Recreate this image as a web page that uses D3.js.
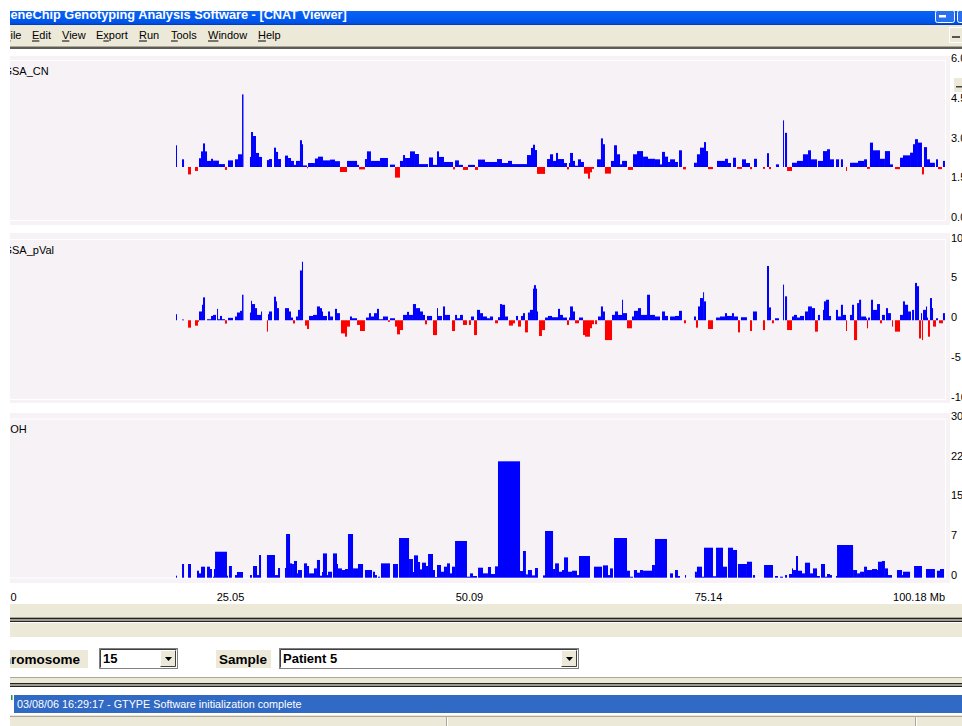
<!DOCTYPE html>
<html>
<head>
<meta charset="utf-8">
<script src="https://cdn.jsdelivr.net/npm/d3@7"></script>
<style>
  html, body { margin: 0; padding: 0; background: #ffffff; overflow: hidden; }
  svg { display: block; }
</style>
</head>
<body>
<svg id="view" width="962" height="726"></svg>
<script>
// ---------------------------------------------------------------
// Chromosome 15 copy-number viewer: GSA_CN, GSA_pVal and LOH tracks
// ---------------------------------------------------------------

const chromosomeLengthMb = 100.18;
const xTickValues = [0, 25.05, 50.09, 75.14, 100.18];
const xTickLabels = ["0", "25.05", "50.09", "75.14", "100.18 Mb"];

const cnTickValues = [6, 4.5, 3, 1.5, 0];
const cnTickLabels = ["6.0", "4.5", "3.0", "1.5", "0.0"];
const pvalTickValues = [10, 5, 0, -5, -10];
const pvalTickLabels = ["10", "5", "0", "-5", "-10"];
const lohTickValues = [30, 22.5, 15, 7.5, 0];
const lohTickLabels = ["30", "22", "15", "7", "0"];

const menuItems = ["File", "Edit", "View", "Export", "Run", "Tools", "Window", "Help"];
const menuAccessKey = [0, 0, 0, 1, 0, 0, 0, 0];

const windowTitle = "GeneChip Genotyping Analysis Software - [CNAT Viewer]";
const statusMessage = "03/08/06 16:29:17 - GTYPE Software initialization complete";
const chromosomeChoice = "15";
const sampleChoice = "Patient 5";

// GSA copy number, [start Mb, end Mb, copy number]
const cnSegments = [
  [19.34,19.44,2.82],[19.97,20.18,2.29],[20.60,20.91,1.72],[21.33,21.64,1.85],[21.75,21.96,2.33],
  [21.96,22.17,2.59],[22.17,22.38,2.89],[22.38,22.59,2.59],[22.59,23.01,2.23],[23.01,23.22,2.31],
  [23.22,23.84,2.24],[23.84,24.47,2.11],[24.47,24.68,1.89],[24.79,25.31,2.25],[25.52,25.84,2.29],
  [25.84,26.26,2.48],[26.26,26.41,4.74],[27.09,27.20,2.38],[27.20,27.41,3.32],[27.41,27.72,3.17],
  [27.72,28.04,2.53],[28.04,28.35,2.38],[28.87,29.08,2.26],[29.08,29.40,2.30],[29.61,29.82,2.73],
  [29.82,30.03,2.57],[30.03,30.34,2.30],[30.76,31.08,2.43],[31.08,31.39,2.34],[31.39,31.70,2.23],
  [31.70,31.91,2.08],[31.91,32.33,2.23],[32.33,32.54,3.01],[32.54,32.65,2.86],[32.65,33.07,2.06],
  [33.07,33.17,1.95],[33.17,33.90,2.15],[33.90,34.22,2.32],[34.22,34.74,2.39],[34.74,35.48,2.25],
  [35.48,36.00,2.28],[36.00,36.52,2.22],[36.52,37.26,1.81],[37.26,38.31,2.23],[38.31,38.52,2.08],
  [38.52,39.14,1.91],[39.14,39.35,2.30],[39.35,39.77,2.59],[39.77,40.72,2.23],[40.72,41.55,2.34],
  [41.76,42.29,2.09],[42.29,42.81,1.60],[42.81,43.13,2.23],[43.13,43.34,2.45],[43.34,43.86,2.34],
  [43.86,44.38,2.59],[44.38,44.80,2.49],[44.80,45.75,2.11],[45.85,46.27,2.36],[46.27,46.69,2.08],
  [46.69,46.90,2.59],[46.90,47.42,2.38],[47.42,48.37,2.19],[48.37,48.58,1.91],[48.58,48.99,2.25],
  [48.99,49.41,2.08],[49.41,49.94,1.89],[49.94,50.67,2.08],[50.67,50.99,1.89],[50.99,51.72,2.28],
  [51.72,52.98,2.19],[52.98,53.50,2.30],[53.50,54.13,2.15],[54.13,54.55,2.23],[54.55,56.12,2.11],
  [56.12,56.54,2.45],[56.54,56.75,2.72],[56.75,56.96,2.84],[56.96,57.17,2.64],[57.17,58.01,1.74],
  [58.22,58.53,2.30],[58.53,58.85,2.48],[58.85,59.16,2.23],[59.16,59.37,2.53],[59.37,60.00,2.30],
  [60.00,60.31,2.15],[60.31,60.52,1.91],[60.52,60.63,2.15],[60.63,60.94,2.53],[60.94,61.15,2.23],
  [61.15,61.46,2.05],[61.46,61.78,2.29],[61.78,62.09,2.19],[62.09,62.51,1.75],[62.51,62.72,1.56],
  [62.72,62.93,1.80],[62.93,63.14,1.93],[63.46,63.87,2.29],[63.87,64.08,3.08],[64.08,64.29,2.86],
  [64.29,64.92,1.75],[64.92,65.24,2.23],[65.24,65.55,2.82],[65.55,65.87,2.48],[65.87,66.08,2.10],
  [66.08,66.60,2.23],[66.70,67.23,1.89],[67.23,67.65,2.48],[67.65,68.28,2.60],[68.28,68.80,2.39],
  [68.80,69.53,2.31],[69.53,70.06,2.29],[70.06,70.27,2.10],[70.27,70.58,2.57],[70.58,70.90,2.39],
  [70.90,71.11,2.19],[71.11,71.63,2.29],[71.63,71.94,2.19],[72.05,72.36,2.63],[72.47,72.78,1.91],
  [73.62,73.93,2.16],[73.93,74.25,2.48],[74.25,74.67,2.73],[74.67,74.88,2.94],[74.88,75.09,2.60],
  [75.09,75.61,1.92],[76.03,76.87,2.23],[76.87,77.18,2.31],[77.18,77.50,2.15],[77.71,78.02,2.35],
  [78.13,78.65,1.93],[78.65,79.07,2.29],[79.07,79.49,2.15],[79.49,79.70,1.92],[79.91,80.22,2.31],
  [80.85,81.06,1.93],[81.27,81.48,2.52],[81.48,81.69,1.92],[82.21,82.53,2.10],[82.95,83.05,3.76],
  [83.16,83.37,3.29],[83.37,83.89,1.85],[83.89,84.41,2.16],[84.41,85.04,2.23],[85.04,85.57,2.48],
  [85.57,85.88,2.63],[85.88,86.51,2.29],[86.61,87.14,2.23],[87.14,87.56,2.60],[87.56,87.87,2.67],
  [87.87,88.29,2.29],[88.50,88.82,2.29],[89.02,89.23,2.29],[89.55,89.65,1.85],[89.97,90.81,2.16],
  [90.81,91.44,2.23],[91.44,91.75,2.29],[91.75,92.06,1.93],[92.06,92.38,2.92],[92.38,93.11,2.63],
  [93.11,93.63,2.31],[93.63,94.16,2.60],[94.16,94.47,2.10],[94.68,95.21,1.92],[95.21,95.52,2.35],
  [95.52,96.26,2.44],[96.26,96.57,2.54],[96.57,96.78,2.86],[96.78,97.09,3.05],[97.09,97.51,2.92],
  [97.51,97.72,1.72],[97.72,98.04,2.75],[98.04,98.35,2.29],[98.35,98.87,2.16],[98.98,99.19,2.29],
  [99.19,99.61,1.92],[99.71,99.92,2.23]
];

// GSA p-value score, [start Mb, end Mb, signed -log10 p]
const pvalSegments = [
  [19.34,19.44,0.76],[19.97,20.18,0.09],[20.60,20.91,-0.93],[21.33,21.64,-0.68],[21.64,21.75,-0.20],
  [21.75,22.06,1.10],[22.06,22.17,1.94],[22.17,22.38,2.87],[22.59,23.01,0.13],[23.01,23.22,0.54],
  [23.22,23.53,0.67],[23.64,23.74,1.43],[23.74,23.95,0.13],[23.95,24.16,0.54],[24.16,24.47,0.13],
  [24.47,24.68,-0.42],[24.79,25.31,0.30],[25.52,25.73,0.47],[25.73,26.05,0.97],[26.05,26.26,1.18],
  [26.26,26.41,3.20],[27.09,27.20,0.97],[27.20,27.30,2.44],[27.30,27.62,2.03],[27.62,27.83,1.52],
  [27.83,28.25,0.67],[28.25,28.35,1.10],[28.87,28.98,-1.43],[28.98,29.08,0.76],[29.08,29.40,1.10],
  [29.61,29.82,2.95],[29.82,29.92,2.37],[29.92,30.13,1.52],[30.76,31.18,1.52],[31.18,31.39,1.10],
  [31.39,31.60,0.34],[31.60,31.81,-0.40],[31.91,32.12,0.47],[32.12,32.33,1.30],[32.33,32.54,6.24],
  [32.54,32.65,7.34],[32.86,33.07,-0.67],[33.07,33.28,-1.10],[33.28,33.70,0.54],[33.70,34.11,0.67],
  [34.11,34.43,1.73],[34.43,34.64,1.52],[34.64,34.74,1.10],[34.74,35.16,0.54],[35.27,35.48,1.10],
  [35.48,35.79,0.47],[36.00,36.21,1.43],[36.21,36.52,0.89],[36.63,37.05,-1.65],[37.05,37.26,-2.06],
  [37.26,37.57,-0.80],[37.57,37.78,0.47],[37.78,38.31,0.25],[38.31,38.62,-0.59],[38.62,39.14,-1.35],
  [39.25,39.56,0.34],[39.56,39.77,0.89],[39.77,40.09,0.47],[40.09,40.40,0.89],[40.40,40.61,1.43],
  [40.61,41.03,0.13],[41.03,41.34,0.47],[41.34,41.55,0.47],[41.55,41.76,-0.20],[41.76,42.29,0.25],
  [42.29,42.50,-0.80],[42.50,42.81,-1.77],[42.81,43.13,-1.23],[43.13,43.55,0.67],[43.55,43.76,1.05],
  [43.76,44.17,0.67],[44.17,44.49,2.03],[44.49,44.91,1.52],[44.91,45.22,1.10],[45.22,45.43,0.67],
  [45.43,45.64,-0.51],[45.64,46.17,0.54],[46.27,46.69,-1.86],[46.69,46.79,1.52],[46.79,47.21,0.54],
  [47.32,47.53,1.73],[47.53,48.05,0.67],[48.26,48.58,-1.35],[48.58,48.79,0.67],[48.79,49.10,0.25],
  [49.10,49.41,0.67],[49.41,49.83,-0.59],[50.04,50.25,-0.59],[50.25,50.57,0.47],[50.57,50.88,-1.86],
  [50.88,51.20,1.30],[51.20,51.51,0.89],[51.51,51.93,0.47],[51.93,52.24,0.25],[52.24,52.56,0.47],
  [52.77,53.08,-0.38],[53.08,53.29,0.38],[53.29,53.50,2.03],[53.50,53.82,1.94],[53.82,54.13,0.47],
  [54.23,54.65,-0.67],[54.65,54.86,-0.38],[54.97,55.18,0.54],[55.18,55.49,-0.80],[55.49,55.70,0.54],
  [55.70,55.91,0.89],[55.91,56.22,-1.52],[56.22,56.43,0.97],[56.43,56.75,1.30],[56.75,56.85,3.96],
  [56.85,57.06,4.40],[57.06,57.17,3.96],[57.17,57.27,1.10],[57.38,57.69,-1.98],[57.69,58.01,-1.23],
  [58.01,58.32,0.34],[58.32,58.74,0.54],[58.74,59.37,0.38],[59.37,59.58,1.43],[59.58,59.89,0.67],
  [59.89,60.31,0.34],[60.31,60.52,-0.59],[60.52,60.63,0.34],[60.63,60.94,1.73],[60.94,61.15,1.10],
  [61.15,61.57,-0.38],[61.57,61.99,0.34],[61.99,62.20,-1.86],[62.20,62.72,-2.06],[62.72,62.93,-1.00],
  [62.93,63.14,-0.50],[63.25,63.46,-0.50],[63.56,63.87,0.47],[63.87,64.08,1.73],[64.08,64.29,1.10],
  [64.29,65.03,-2.49],[65.03,65.34,0.67],[65.34,65.66,1.10],[65.66,66.08,0.67],[66.08,66.18,2.57],
  [66.18,66.60,0.89],[66.60,67.12,-1.01],[67.12,67.33,0.47],[67.33,67.75,1.18],[67.75,68.07,1.52],
  [68.07,68.70,0.67],[68.70,69.01,3.20],[69.01,69.53,0.67],[69.53,70.06,0.47],[70.27,70.58,1.10],
  [70.58,70.90,0.54],[71.11,71.63,0.47],[71.63,72.05,0.54],[72.05,72.36,1.18],[72.57,72.78,-0.38],
  [73.62,73.83,0.47],[73.83,74.04,-0.93],[74.04,74.25,1.73],[74.25,74.57,2.78],[74.57,74.67,3.51],
  [74.67,74.88,2.37],[75.09,75.61,-1.10],[75.93,76.34,0.34],[76.34,76.87,0.47],[76.87,77.08,0.89],
  [77.08,77.60,0.54],[77.60,77.81,0.89],[77.81,78.23,0.47],[78.23,78.44,-1.52],[78.54,79.17,0.38],
  [79.49,79.70,-1.35],[79.80,80.22,1.10],[80.85,81.06,-1.23],[81.27,81.48,6.80],[81.48,81.69,1.61],
  [81.79,82.00,-0.38],[82.11,82.53,0.25],[82.95,83.05,4.47],[83.16,83.37,3.00],[83.37,83.89,-1.23],
  [83.89,84.10,0.47],[84.10,84.41,0.67],[84.41,84.73,0.34],[84.73,85.15,0.54],[85.25,85.57,1.10],
  [85.57,85.98,1.73],[85.98,86.30,1.52],[86.30,86.61,-1.43],[86.61,86.82,0.67],[87.14,87.24,1.30],
  [87.24,87.45,2.37],[87.45,87.77,2.57],[87.77,87.98,0.54],[88.50,88.71,1.30],[88.71,89.02,0.47],
  [89.02,89.23,1.94],[89.23,89.55,0.67],[89.55,89.65,-1.35],[89.97,90.18,0.67],[90.18,90.39,1.94],
  [90.39,90.71,-2.49],[90.71,90.92,2.15],[90.92,91.13,2.57],[91.13,91.65,0.47],[91.65,91.75,0.25],
  [91.75,91.86,-1.01],[91.86,92.06,0.34],[92.17,92.38,2.57],[92.38,92.80,1.30],[92.80,93.11,2.03],
  [93.11,93.32,-0.38],[93.32,93.63,0.67],[93.74,93.95,1.52],[93.95,94.26,0.89],[94.37,94.47,-0.80],
  [94.68,95.21,-1.43],[95.21,95.52,0.67],[95.52,95.73,2.37],[95.73,96.05,1.94],[96.05,96.36,1.10],
  [96.47,96.68,1.30],[96.78,96.99,4.68],[96.99,97.20,4.27],[97.20,97.41,-2.28],[97.41,97.51,0.89],
  [97.51,97.62,-2.49],[97.62,97.93,1.30],[97.93,98.04,1.73],[98.04,98.14,0.34],[98.14,98.35,-2.06],
  [98.35,98.56,2.78],[98.56,98.67,1.52],[98.67,98.98,-0.80],[98.98,99.19,0.25],[99.30,99.71,-0.38],
  [99.71,99.92,0.89]
];

// LOH score, [start Mb, end Mb, score]
const lohSegments = [
  [19.34,19.44,0.38],[19.97,20.18,2.59],[20.60,20.91,2.59],[21.54,21.75,1.32],[21.75,21.96,0.82],
  [21.96,22.38,2.08],[22.59,22.90,2.08],[22.90,23.11,1.64],[23.22,23.32,0.19],[23.32,23.43,1.64],
  [23.43,24.68,4.91],[24.68,24.79,0.38],[24.89,25.20,2.21],[25.52,25.73,0.50],[25.73,26.36,1.08],
  [27.09,27.30,0.50],[27.41,27.83,2.21],[27.83,28.04,0.50],[28.04,28.25,4.29],[28.87,29.71,4.29],
  [29.71,30.03,0.50],[30.03,30.24,1.83],[30.76,30.87,1.83],[30.87,31.29,8.26],[31.29,31.50,2.71],
  [31.50,31.70,2.59],[31.70,32.02,3.16],[32.02,32.12,0.82],[32.12,32.54,1.45],[32.75,33.07,2.71],
  [33.07,33.28,2.21],[33.28,33.80,0.82],[33.80,34.11,1.76],[34.11,34.43,3.35],[34.43,34.64,0.38],
  [34.64,34.74,1.08],[34.74,35.16,4.59],[35.16,35.27,0.50],[35.27,35.69,1.13],[35.79,36.21,4.59],
  [36.21,36.31,2.59],[36.31,36.73,1.76],[36.73,37.05,1.45],[37.05,37.36,1.64],[37.36,37.89,8.26],
  [37.89,38.41,1.76],[38.41,38.94,2.59],[39.14,39.88,1.45],[39.98,40.19,1.13],[40.19,40.40,0.50],
  [40.51,40.72,0.19],[40.82,41.76,2.71],[42.08,42.60,2.59],[42.71,43.76,7.50],[43.76,44.17,3.53],
  [44.17,44.28,1.08],[44.28,44.70,4.22],[44.70,44.91,2.97],[44.91,45.12,1.57],[45.12,45.54,2.84],
  [45.54,45.75,2.21],[45.75,46.27,4.48],[46.27,46.48,1.45],[46.48,46.69,0.13],[46.69,47.11,2.40],
  [47.11,47.42,1.13],[47.42,47.74,2.08],[47.74,48.05,2.71],[48.05,48.26,0.82],[48.26,48.58,2.08],
  [48.58,49.83,6.94],[49.83,50.15,0.19],[50.15,50.46,0.82],[50.46,50.88,0.32],[50.99,51.51,1.89],
  [51.51,52.03,0.82],[52.03,52.35,2.02],[52.35,52.77,0.70],[52.77,53.08,2.14],[53.08,55.39,22.0],
  [55.39,55.70,1.26],[55.70,56.01,5.05],[56.01,56.22,0.63],[56.22,56.64,1.45],[56.64,56.96,0.44],
  [56.96,57.27,1.83],[57.80,58.01,0.44],[58.01,58.85,8.83],[58.85,59.06,1.64],[59.06,59.47,2.71],
  [59.47,59.79,1.13],[59.79,60.00,1.45],[60.00,60.42,3.84],[60.42,60.84,1.13],[60.84,61.36,1.32],
  [61.36,61.57,0.50],[61.57,62.72,4.10],[63.14,63.98,2.08],[64.08,64.61,2.33],[64.61,64.82,0.50],
  [64.82,65.13,1.76],[65.24,66.60,7.50],[66.60,66.91,1.32],[66.91,67.23,0.19],[67.33,67.65,1.45],
  [67.65,67.96,0.95],[67.96,68.28,1.45],[68.28,69.22,1.32],[69.22,69.53,2.40],[69.53,70.79,7.32],
  [71.11,71.42,0.82],[71.63,71.94,1.45],[71.94,72.15,0.32],[72.68,72.78,0.50],[73.72,73.93,1.13],
  [73.93,74.46,2.08],[74.46,74.67,0.19],[74.67,75.61,5.67],[75.61,75.93,0.28],[75.93,76.66,5.67],
  [76.66,77.08,2.08],[77.18,77.71,5.67],[77.71,78.13,5.24],[78.23,79.17,2.59],[79.17,79.70,3.02],
  [79.80,80.01,0.50],[80.96,81.90,2.40],[82.11,82.42,0.32],[82.63,82.95,0.19],[83.16,83.37,0.50],
  [83.58,83.89,0.70],[83.89,84.00,1.76],[84.00,84.31,1.45],[84.31,84.52,4.10],[84.52,84.94,1.32],
  [84.94,85.25,0.82],[85.25,85.78,2.84],[85.78,86.09,0.82],[86.09,86.51,1.76],[86.51,86.82,0.32],
  [86.93,87.35,2.59],[87.35,87.56,0.19],[87.56,87.87,0.70],[87.87,88.08,0.50],[88.50,88.61,0.32],
  [88.61,90.29,6.18],[90.29,90.71,1.45],[90.71,91.02,0.82],[91.02,91.44,1.13],[91.44,91.75,2.08],
  [91.75,92.27,1.45],[92.27,92.80,1.64],[92.80,92.90,1.45],[92.90,93.32,3.02],[93.32,93.63,3.16],
  [93.63,93.95,1.76],[93.95,94.37,0.50],[94.89,95.42,1.45],[95.42,95.52,0.50],[95.52,96.26,1.13],
  [96.68,97.51,2.21],[97.93,98.87,1.64],[99.08,99.40,1.32],[99.40,99.82,1.64]
];

// ---------------------------------------------------------------
// Layout
// ---------------------------------------------------------------
const W = 962, H = 726;
const FACE = "#ECE9D8";          // dialog face colour
const PLOT_BG = "#F6F2F6";       // track background
const UI_FONT = "'Liberation Sans', Arial, sans-serif";

// left edge of each menu caption (the first one is partly hidden)
const MENU_LEFT = [10.5, 32, 62, 96, 139, 171, 208, 258];

const svg = d3.select("#view");
const defs = svg.append("defs");

// The window is seen from x = 10 onward
defs.append("clipPath").attr("id", "winClip")
  .append("rect").attr("x", 10).attr("y", 0).attr("width", W - 10).attr("height", H);

const root = svg.append("g").attr("clip-path", "url(#winClip)");

function textWidth(str, font) {
  const t = svg.append("text").attr("style", "font:" + font).text(str);
  const w = t.node().getComputedTextLength();
  t.remove();
  return w;
}

// text whose leading characters run off the left side of the window
function leftCutText(parent, full, hidden, visibleX, baseline, font, fill) {
  const x = visibleX - textWidth(hidden, font);
  return parent.append("text")
    .attr("x", x).attr("y", baseline)
    .attr("style", "font:" + font)
    .attr("fill", fill)
    .text(full);
}

// ---------------- Title bar ----------------
const tg = defs.append("linearGradient").attr("id", "titleGrad")
  .attr("x1", 0).attr("y1", 0).attr("x2", 0).attr("y2", 1);
tg.append("stop").attr("offset", "0%").attr("stop-color", "#0A62F6");
tg.append("stop").attr("offset", "60%").attr("stop-color", "#0058EE");
tg.append("stop").attr("offset", "88%").attr("stop-color", "#0050E0");
tg.append("stop").attr("offset", "100%").attr("stop-color", "#0037B8");

defs.append("clipPath").attr("id", "titleClip")
  .append("rect").attr("x", 10).attr("y", 11).attr("width", W).attr("height", 14);

root.append("rect").attr("x", 0).attr("y", 11).attr("width", W).attr("height", 14)
  .attr("fill", "url(#titleGrad)");

{
  const g = root.append("g").attr("clip-path", "url(#titleClip)");
  const baseFont = "bold 13px " + UI_FONT;
  const full = textWidth(windowTitle, baseFont);
  const hid = textWidth("G", baseFont);
  const scale = (347 - 10.5) / (full - hid);
  const font = "bold " + (13 * scale).toFixed(2) + "px " + UI_FONT;
  leftCutText(g, windowTitle, "G", 10.5, 19, font, "#ffffff");
}

// caption buttons
root.append("rect").attr("x", 935.5).attr("y", 10.5).attr("width", 19).attr("height", 12).attr("rx", 2)
  .attr("fill", "#2A6FF0").attr("stroke", "#ffffff");
root.append("rect").attr("x", 939).attr("y", 15).attr("width", 7).attr("height", 2.5).attr("fill", "#ffffff");
root.append("rect").attr("x", 957.5).attr("y", 10.5).attr("width", 19).attr("height", 12).attr("rx", 2)
  .attr("fill", "#2A6FF0").attr("stroke", "#ffffff");

// ---------------- Menu bar ----------------
root.append("rect").attr("x", 0).attr("y", 25).attr("width", W).attr("height", 21).attr("fill", FACE);
{
  const font = "11px " + UI_FONT;
  menuItems.forEach((label, i) => {
    const x0 = i === 0 ? MENU_LEFT[0] - textWidth("F", font) : MENU_LEFT[i];
    root.append("text").attr("x", x0).attr("y", 39).attr("style", "font:" + font)
      .attr("fill", "#000").text(label);
    // access-key underline
    const k = menuAccessKey[i];
    const ux = x0 + textWidth(label.slice(0, k), font);
    const uw = textWidth(label[k], font);
    root.append("rect").attr("x", ux).attr("y", 40.5).attr("width", uw).attr("height", 1).attr("fill", "#000");
  });
}
// MDI minimise button at the menu bar's end
root.append("rect").attr("x", 949.5).attr("y", 27.5).attr("width", 14).attr("height", 15)
  .attr("fill", FACE).attr("stroke", "#ffffff");
root.append("rect").attr("x", 952).attr("y", 36).attr("width", 8).attr("height", 2).attr("fill", "#555");

root.append("rect").attr("x", 0).attr("y", 46).attr("width", W).attr("height", 1).attr("fill", "#ACA899");
root.append("rect").attr("x", 0).attr("y", 47).attr("width", W).attr("height", 2).attr("fill", "#5C5B55");

// ---------------- Tracks ----------------
const x = d3.scaleLinear().domain([0, chromosomeLengthMb]).range([-8.55, 947.45]);
const FRAME_RIGHT = 945;

const tracks = [
  { title: "GSA_CN", hidden: "G", nameX: 12, segs: cnSegments, domain: [0, 6], base: 2,
    range: [220, 61], bgTop: 56, bgBottom: 225, frameTop: 60.5, frameBottom: 220.5,
    ticks: cnTickValues, labels: cnTickLabels, signed: true },
  { title: "GSA_pVal", hidden: "G", nameX: 12, segs: pvalSegments, domain: [-10, 10], base: 0,
    range: [400, 240.5], bgTop: 233, bgBottom: 403, frameTop: 239.5, frameBottom: 399.5,
    ticks: pvalTickValues, labels: pvalTickLabels, signed: true },
  { title: "LOH", hidden: "L", nameX: 10.2, segs: lohSegments, domain: [0, 30], base: 0,
    range: [577.7, 419], bgTop: 413, bgBottom: 583, frameTop: 419, frameBottom: 578,
    ticks: lohTickValues, labels: lohTickLabels, signed: false }
];

tracks.forEach(t => {
  const y = d3.scaleLinear().domain(t.domain).range(t.range);
  const g = root.append("g");

  g.append("rect").attr("x", 0).attr("y", t.bgTop).attr("width", 950).attr("height", t.bgBottom - t.bgTop)
    .attr("fill", PLOT_BG);
  g.append("rect").attr("x", -5).attr("y", t.frameTop).attr("width", FRAME_RIGHT + 0.5 + 5)
    .attr("height", t.frameBottom - t.frameTop)
    .attr("fill", "none").attr("stroke", "#ffffff").attr("stroke-width", 1);

  g.append("g").selectAll("rect").data(t.segs).join("rect")
    .attr("x", d => x(d[0]))
    .attr("width", d => Math.max(1, x(d[1]) - x(d[0])))
    .attr("y", d => Math.min(y(d[2]), y(t.base)))
    .attr("height", d => Math.abs(y(d[2]) - y(t.base)))
    .attr("fill", d => (t.signed && d[2] < t.base) ? "#FF0000" : "#0000FF");

  // track name
  leftCutText(g, t.title, t.hidden, t.nameX, t.frameTop + 14, "11px " + UI_FONT, "#000");

  // right-hand value axis
  g.append("g").selectAll("text").data(t.ticks).join("text")
    .attr("x", 951)
    .attr("y", d => y(d) + 1)
    .attr("style", "font:11px " + UI_FONT)
    .attr("fill", "#000")
    .text((d, i) => t.labels[i]);
});

// small collapse button beside the copy-number axis
root.append("rect").attr("x", 953.5).attr("y", 77.5).attr("width", 12).attr("height", 15)
  .attr("fill", FACE).attr("stroke", "#ffffff");
root.append("rect").attr("x", 956).attr("y", 86).attr("width", 6).attr("height", 1.5).attr("fill", "#444");

// ---------------- Position axis ----------------
{
  const g = root.append("g");
  const last = xTickValues.length - 1;
  xTickValues.forEach((v, i) => {
    let px = x(v), anchor = "middle";
    if (i === 0) { px = Math.max(px, 10.5); anchor = "start"; }
    if (i === last) { px = Math.min(px, FRAME_RIGHT); anchor = "end"; }
    g.append("text").attr("x", px).attr("y", 601).attr("text-anchor", anchor)
      .attr("style", "font:11px " + UI_FONT).attr("fill", "#000").text(xTickLabels[i]);
  });
}

// ---------------- Splitter & selection bar ----------------
root.append("rect").attr("x", 0).attr("y", 603).attr("width", W).attr("height", 1).attr("fill", "#ffffff");
root.append("rect").attr("x", 0).attr("y", 604).attr("width", W).attr("height", 13).attr("fill", FACE);
root.append("rect").attr("x", 0).attr("y", 617).attr("width", W).attr("height", 1).attr("fill", "#ACA899");
root.append("rect").attr("x", 0).attr("y", 618).attr("width", W).attr("height", 1).attr("fill", "#222");
root.append("rect").attr("x", 0).attr("y", 619).attr("width", W).attr("height", 2).attr("fill", "#9D9B90");
root.append("rect").attr("x", 0).attr("y", 621).attr("width", W).attr("height", 1).attr("fill", "#222");
root.append("rect").attr("x", 0).attr("y", 622).attr("width", W).attr("height", 1).attr("fill", "#ffffff");
root.append("rect").attr("x", 0).attr("y", 623).attr("width", W).attr("height", 14).attr("fill", FACE);

function label(textStr, hidden, visX, bgX, bgW) {
  root.append("rect").attr("x", bgX).attr("y", 650).attr("width", bgW).attr("height", 18).attr("fill", FACE);
  leftCutText(root, textStr, hidden, visX, 664, "bold 13.5px " + UI_FONT, "#000");
}
function combo(x0, x1, value) {
  root.append("rect").attr("x", x0 + 0.5).attr("y", 648.5).attr("width", x1 - x0 - 1).attr("height", 20)
    .attr("fill", "#ffffff").attr("stroke", "#808080");
  root.append("path").attr("d", `M${x0 + 1.5},667.5 V649.5 H${x1 - 1.5}`).attr("fill", "none").attr("stroke", "#404040");
  root.append("text").attr("x", x0 + 4).attr("y", 663).attr("style", "font:bold 13px " + UI_FONT)
    .attr("fill", "#000").text(value);
  const bx = x1 - 18;
  root.append("rect").attr("x", bx).attr("y", 650).attr("width", 16).attr("height", 17).attr("fill", FACE);
  root.append("path").attr("d", `M${bx + 0.5},666.5 V650.5 H${bx + 15.5}`).attr("fill", "none").attr("stroke", "#ffffff");
  root.append("path").attr("d", `M${bx + 15.5},650.5 V666.5 H${bx + 0.5}`).attr("fill", "none").attr("stroke", "#404040");
  root.append("path").attr("d", `M${bx + 5},657 h7 l-3.5,4 z`).attr("fill", "#000");
}
label("Chromosome", "Ch", 11, 0, 88);
combo(99, 178, chromosomeChoice);
label("Sample", "", 219, 216, 55);
combo(279, 579, sampleChoice);

// ---------------- Output pane & status bar ----------------
root.append("rect").attr("x", 0).attr("y", 677).attr("width", W).attr("height", 1).attr("fill", "#ACA899");
root.append("rect").attr("x", 0).attr("y", 678).attr("width", W).attr("height", 5).attr("fill", FACE);
root.append("rect").attr("x", 0).attr("y", 683).attr("width", W).attr("height", 1).attr("fill", "#222");
root.append("rect").attr("x", 0).attr("y", 684).attr("width", W).attr("height", 2).attr("fill", "#9D9B90");
root.append("rect").attr("x", 0).attr("y", 686).attr("width", W).attr("height", 1).attr("fill", "#222");

root.append("rect").attr("x", 14).attr("y", 695).attr("width", W - 14).attr("height", 18).attr("fill", "#316AC5");
root.append("rect").attr("x", 11).attr("y", 695).attr("width", 1.5).attr("height", 5).attr("fill", "#1C9A2B");
root.append("text").attr("x", 17).attr("y", 708).attr("style", "font:10.8px " + UI_FONT)
  .attr("fill", "#ffffff").text(statusMessage);

root.append("rect").attr("x", 0).attr("y", 715).attr("width", W).attr("height", 11).attr("fill", FACE);
root.append("rect").attr("x", 0).attr("y", 716).attr("width", W).attr("height", 1).attr("fill", "#ACA899");
[446, 915].forEach(px => {
  root.append("rect").attr("x", px).attr("y", 717).attr("width", 1).attr("height", 9).attr("fill", "#ACA899");
  root.append("rect").attr("x", px + 1).attr("y", 717).attr("width", 1).attr("height", 9).attr("fill", "#ffffff");
});
</script>
</body>
</html>
